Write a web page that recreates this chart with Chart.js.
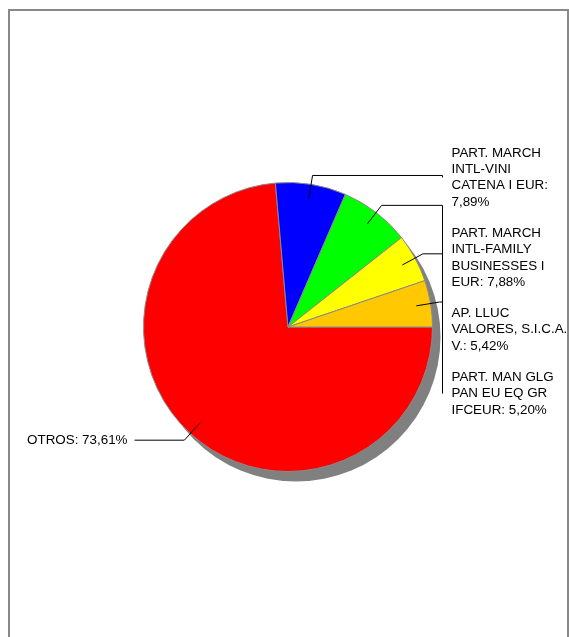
<!DOCTYPE html>
<html>
<head>
<meta charset="utf-8">
<script src="https://cdn.jsdelivr.net/npm/chart.js@4/dist/chart.umd.min.js"></script>
<style>
  html, body { margin: 0; padding: 0; background: #fff; overflow: hidden; }
  #frame { position: absolute; left: 8px; top: 9px; width: 561px; height: 700px; border: 2px solid #888; box-sizing: border-box; }
  #c { position: absolute; left: 0; top: 0; }
</style>
</head>
<body>
<div id="frame"></div>
<canvas id="c" width="569" height="637"></canvas>
<script>
const categories = [
  'OTROS',
  'PART. MARCH\nINTL-VINI\nCATENA I EUR',
  'PART. MARCH\nINTL-FAMILY\nBUSINESSES I\nEUR',
  'AP. LLUC\nVALORES, S.I.C.A.\nV.',
  'PART. MAN GLG\nPAN EU EQ GR\nIFCEUR'
];
const values = [73.61, 7.89, 7.88, 5.42, 5.20];
const colors = ['#FF0000', '#0000FF', '#00FF00', '#FFFF00', '#FFC800'];

const FONT = '13.4px "Liberation Sans", Arial, sans-serif';
const LINE_H = 16.3;

function fmt(v) { return v.toFixed(2).replace('.', ',') + '%'; }

function wrap(ctx, text, maxW) {
  const lines = [];
  for (const part of text.split('\n')) {
    const words = part.split(' ');
    let cur = '';
    for (const w of words) {
      const t = cur ? cur + ' ' + w : w;
      if (cur && ctx.measureText(t).width > maxW) { lines.push(cur); cur = w; }
      else cur = t;
    }
    if (cur) lines.push(cur);
  }
  return lines;
}

const shadowPlugin = {
  id: 'shadow',
  beforeDatasetsDraw(chart) {
    const arc = chart.getDatasetMeta(0).data[0];
    if (!arc) return;
    const { x, y, outerRadius } = arc.getProps(['x', 'y', 'outerRadius'], true);
    const ctx = chart.ctx;
    ctx.save();
    ctx.fillStyle = '#808080';
    ctx.beginPath();
    ctx.arc(x + 8, y + 10, outerRadius, 0, Math.PI * 2);
    ctx.fill();
    ctx.restore();
  }
};

const labelPlugin = {
  id: 'leaderLabels',
  afterDatasetsDraw(chart) {
    const ctx = chart.ctx;
    const meta = chart.getDatasetMeta(0);
    ctx.save();
    ctx.font = FONT;
    ctx.fillStyle = '#000';
    ctx.strokeStyle = '#000';
    ctx.lineWidth = 1;
    const items = meta.data.map((arc, i) => {
      const p = arc.getProps(['x', 'y', 'startAngle', 'endAngle', 'outerRadius'], true);
      const mid = (p.startAngle + p.endAngle) / 2;
      const r = p.outerRadius;
      const ax = p.x + Math.cos(mid) * r * 0.9, ay = p.y + Math.sin(mid) * r * 0.9;
      const ex = p.x + Math.cos(mid) * (r + 9), ey = p.y + Math.sin(mid) * (r + 9);
      const right = Math.cos(mid) >= 0;
      const hx = right ? p.x + r + 10 : p.x - r - 9;
      const text = categories[i] + ': ' + fmt(values[i]);
      return { i, ax, ay, ex, ey, hx, right, text };
    });
    const rightItems = items.filter(d => d.right).sort((a, b) => a.ey - b.ey);
    let prevLast = -Infinity;
    for (const d of rightItems) {
      const lines = wrap(ctx, d.text, 123);
      const h = (lines.length - 1) * LINE_H;
      let first = d.ey + 2 - h / 2;
      if (first < prevLast + LINE_H + 15) first = prevLast + LINE_H + 15;
      const center = first + h / 2;
      ctx.beginPath();
      ctx.moveTo(d.ax, d.ay);
      ctx.lineTo(d.ex, d.ey);
      ctx.lineTo(d.hx, d.ey);
      ctx.lineTo(d.hx, center);
      ctx.stroke();
      ctx.textAlign = 'left';
      ctx.textBaseline = 'middle';
      lines.forEach((ln, k) => ctx.fillText(ln, d.hx + 9, first + k * LINE_H));
      prevLast = first + h;
    }
    for (const d of items.filter(d => !d.right)) {
      ctx.beginPath();
      ctx.moveTo(d.ax, d.ay);
      ctx.lineTo(d.ex, d.ey);
      ctx.lineTo(d.hx, d.ey);
      ctx.stroke();
      ctx.textAlign = 'right';
      ctx.textBaseline = 'middle';
      ctx.fillText(d.text, d.hx - 7, d.ey);
    }
    ctx.restore();
  }
};

new Chart(document.getElementById('c'), {
  type: 'pie',
  data: {
    labels: categories,
    datasets: [{
      data: values,
      backgroundColor: colors,
      borderColor: '#8a8a8a',
      borderWidth: 1
    }]
  },
  options: {
    responsive: false,
    animation: false,
    rotation: 90,
    layout: { padding: { left: 143, right: 136, top: 182, bottom: 165 } },
    plugins: { legend: { display: false }, tooltip: { enabled: false } }
  },
  plugins: [shadowPlugin, labelPlugin]
});
</script>
</body>
</html>
